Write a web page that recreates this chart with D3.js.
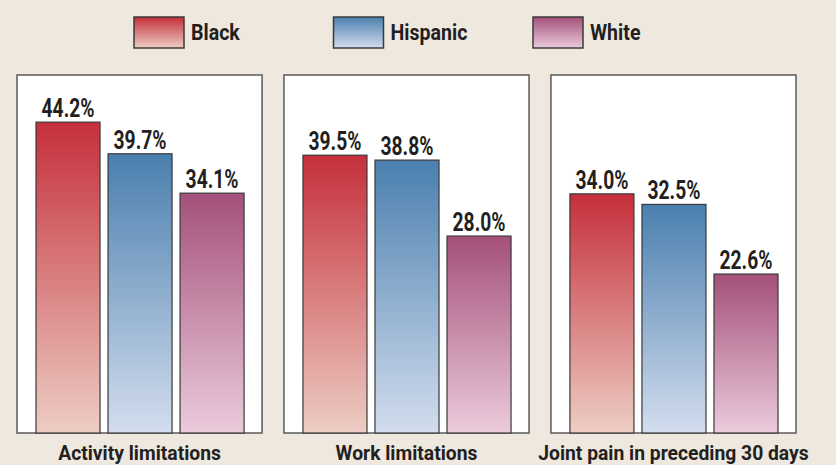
<!DOCTYPE html>
<html>
<head>
<meta charset="utf-8">
<script src="https://d3js.org/d3.v7.min.js"></script>
<style>
  body { margin: 0; background: #efe8de; }
  text { font-family: Roboto, "Liberation Sans", sans-serif; font-weight: bold; fill: #231f20; }
</style>
</head>
<body>
<div id="chart"></div>
<script>
const groups = ["Black", "Hispanic", "White"];
const panels = ["Activity limitations", "Work limitations", "Joint pain in preceding 30 days"];
const blackValues = [44.2, 39.5, 34.0];
const hispanicValues = [39.7, 38.8, 32.5];
const whiteValues = [34.1, 28.0, 22.6];
const seriesValues = [blackValues, hispanicValues, whiteValues];

const colors = {
  Black: ["#c52f3b", "#edcdc4"],
  Hispanic: ["#4a7fae", "#d3ddee"],
  White: ["#a4507a", "#ebcbdc"]
};

const svg = d3.select("#chart")
  .append("svg")
  .attr("width", 836)
  .attr("height", 465);

// gradients for the bars
const defs = svg.append("defs");
groups.forEach(g => {
  const grad = defs.append("linearGradient")
    .attr("id", "grad-" + g)
    .attr("x1", 0).attr("y1", 0).attr("x2", 0).attr("y2", 1);
  grad.append("stop").attr("offset", "0%").attr("stop-color", colors[g][0]);
  grad.append("stop").attr("offset", "100%").attr("stop-color", colors[g][1]);
});

// legend
const legendX = d3.scalePoint().domain(groups).range([134, 533]);
const legend = svg.selectAll(".legend")
  .data(groups)
  .join("g")
  .attr("transform", d => `translate(${legendX(d)},17)`);
legend.append("rect")
  .attr("width", 50)
  .attr("height", 31)
  .attr("fill", d => `url(#grad-${d})`)
  .attr("stroke", "#3a3a3a")
  .attr("stroke-width", 1.5);
legend.append("text")
  .attr("transform", "translate(57,23) scale(0.89,1)")
  .attr("font-size", "22px")
  .text(d => d);

// panels
const panelX = d3.scaleBand().domain(panels).range([17, 796]).paddingInner(0.082);
const panelTop = 75, panelBottom = 433;
const y = d3.scaleLinear().domain([0, 50.9]).range([panelBottom, panelTop]);

panels.forEach((p, pi) => {
  const g = svg.append("g").attr("transform", `translate(${panelX(p)},0)`);
  const w = panelX.bandwidth();
  g.append("rect")
    .attr("x", 0).attr("y", panelTop)
    .attr("width", w).attr("height", panelBottom - panelTop)
    .attr("fill", "#fff")
    .attr("stroke", "#5a5a5a")
    .attr("stroke-width", 1.5);

  const x = d3.scaleBand().domain(groups).range([19, w - 18]).paddingInner(0.111);
  const vals = groups.map((gr, i) => ({ group: gr, value: seriesValues[i][pi] }));

  g.selectAll(".bar")
    .data(vals)
    .join("rect")
    .attr("x", d => x(d.group))
    .attr("y", d => y(d.value))
    .attr("width", x.bandwidth())
    .attr("height", d => y(0) - y(d.value))
    .attr("fill", d => `url(#grad-${d.group})`)
    .attr("stroke", "#3a3a3a")
    .attr("stroke-width", 1.2);

  g.selectAll(".val")
    .data(vals)
    .join("text")
    .attr("transform", d => `translate(${x(d.group) + x.bandwidth() / 2},${y(d.value) - 5}) scale(0.77,1)`)
    .attr("text-anchor", "middle")
    .attr("font-size", "25px")
    .text(d => d.value.toFixed(1) + "%");

  g.append("text")
    .attr("transform", `translate(${w / 2},460) scale(0.92,1)`)
    .attr("text-anchor", "middle")
    .attr("font-size", "21px")
    .text(p);
});
</script>
</body>
</html>
